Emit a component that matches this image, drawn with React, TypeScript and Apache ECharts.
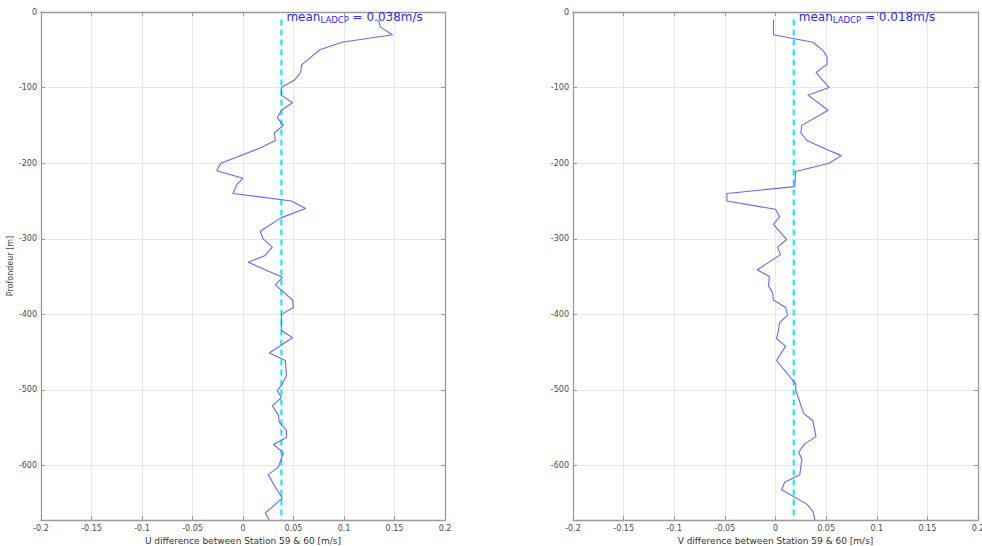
import React, { useEffect, useRef } from "react";
import * as echarts from "echarts";

// Depth (m, positive downward) and U difference (m/s)
const uDepth = [10, 20, 30, 40, 50, 60, 70, 80, 90, 100, 110, 120, 130, 140, 150, 160, 170, 180, 200, 210, 220, 228, 240, 250, 260, 272, 290, 300, 311, 322, 331, 351, 361, 381, 391, 400, 421, 431, 451, 461, 481, 492, 501, 510, 521, 533, 543, 553, 563, 572, 583, 602, 612, 633, 643, 663, 672];
const uVals = [0.134, 0.136, 0.148, 0.098, 0.076, 0.067, 0.058, 0.057, 0.051, 0.038, 0.038, 0.049, 0.038, 0.034, 0.040, 0.031, 0.032, 0.017, -0.022, -0.026, 0.000, -0.006, -0.010, 0.048, 0.062, 0.038, 0.017, 0.020, 0.029, 0.022, 0.005, 0.039, 0.032, 0.049, 0.050, 0.038, 0.038, 0.049, 0.026, 0.042, 0.043, 0.039, 0.034, 0.038, 0.029, 0.035, 0.036, 0.043, 0.043, 0.030, 0.040, 0.035, 0.025, 0.034, 0.039, 0.022, 0.026];

// Depth (m) and V difference (m/s)
const vDepth = [10, 30, 40, 51, 60, 69, 80, 100, 110, 130, 150, 160, 170, 181, 190, 200, 211, 231, 240, 250, 261, 271, 281, 301, 311, 321, 341, 350, 362, 371, 381, 391, 401, 411, 421, 432, 442, 461, 492, 500, 520, 531, 541, 562, 571, 582, 592, 612, 622, 632, 651, 661, 672];
const vVals = [-0.002, -0.002, 0.037, 0.047, 0.051, 0.051, 0.040, 0.053, 0.032, 0.052, 0.026, 0.025, 0.031, 0.049, 0.065, 0.053, 0.020, 0.019, -0.048, -0.048, 0.000, 0.004, -0.002, 0.011, 0.002, 0.005, -0.018, -0.006, -0.007, -0.003, -0.002, 0.010, 0.012, 0.004, 0.003, 0.001, 0.010, 0.001, 0.020, 0.020, 0.025, 0.028, 0.037, 0.040, 0.029, 0.023, 0.026, 0.024, 0.009, 0.006, 0.031, 0.037, 0.039];

const meanU = 0.038;
const meanV = 0.018;
const meanDepthRange = [10, 672];
const depthMax = 672;
const xTicks = [-0.2, -0.15, -0.1, -0.05, 0, 0.05, 0.1, 0.15, 0.2];
const yTickStep = 100;

const FONT = "DejaVu Sans";
const AXIS_COLOR = "#9a9a9a";
const GRID_COLOR = "#e8e8e8";
const LABEL_COLOR = "#4a4a4a";
const LINE_COLOR = "#6666ff";
const TEXT_BLUE = "#2a2aff";
const CYAN = "#00eaff";

export default function App() {
  const ref = useRef<HTMLDivElement>(null);
  useEffect(() => {
    if (!ref.current) return;
    const chart = echarts.init(ref.current, null, { renderer: "svg" });

    const xBase = (gridIndex: number, name: string) => ({
      type: "value",
      gridIndex,
      min: xTicks[0],
      max: xTicks[xTicks.length - 1],
      interval: xTicks[1] - xTicks[0],
      position: "bottom",
      name,
      nameLocation: "middle",
      nameGap: 16,
      nameTextStyle: { fontFamily: FONT, fontSize: 9, color: "#333" },
      axisLine: { show: true, onZero: false, lineStyle: { color: AXIS_COLOR, width: 1.3 } },
      axisTick: { show: true, inside: true, length: 4, lineStyle: { color: AXIS_COLOR } },
      axisLabel: { fontFamily: FONT, fontSize: 8, color: LABEL_COLOR, margin: 4, formatter: (v: number) => String(+v.toFixed(2)) },
      splitLine: { show: true, lineStyle: { color: GRID_COLOR, width: 1 } },
    });
    const xTop = (gridIndex: number) => ({
      type: "value",
      gridIndex,
      min: xTicks[0],
      max: xTicks[xTicks.length - 1],
      interval: xTicks[1] - xTicks[0],
      position: "top",
      axisLine: { show: true, onZero: false, lineStyle: { color: AXIS_COLOR, width: 1.3 } },
      axisTick: { show: true, inside: true, length: 4, lineStyle: { color: AXIS_COLOR } },
      axisLabel: { show: false },
      splitLine: { show: false },
    });
    const yLeft = (gridIndex: number, name: string) => ({
      type: "value",
      gridIndex,
      inverse: true,
      min: 0,
      max: depthMax,
      interval: yTickStep,
      position: "left",
      name,
      nameLocation: "middle",
      nameGap: 20,
      nameTextStyle: { fontFamily: FONT, fontSize: 8, color: "#444" },
      axisLine: { show: true, onZero: false, lineStyle: { color: AXIS_COLOR, width: 1.3 } },
      axisTick: { show: true, inside: true, length: 4, lineStyle: { color: AXIS_COLOR } },
      axisLabel: {
        fontFamily: FONT,
        fontSize: 8,
        color: LABEL_COLOR,
        margin: 4,
        showMaxLabel: false,
        formatter: (v: number) => (v === 0 ? "0" : "-" + v),
      },
      splitLine: { show: true, lineStyle: { color: GRID_COLOR, width: 1 } },
    });
    const yRight = (gridIndex: number) => ({
      type: "value",
      gridIndex,
      inverse: true,
      min: 0,
      max: depthMax,
      interval: yTickStep,
      position: "right",
      axisLine: { show: true, onZero: false, lineStyle: { color: AXIS_COLOR, width: 1.3 } },
      axisTick: { show: true, inside: true, length: 4, lineStyle: { color: AXIS_COLOR } },
      axisLabel: { show: false },
      splitLine: { show: false },
    });

    const meanLabel = (val: number) => ({
      show: true,
      position: "right",
      distance: 5,
      offset: [0, -2],
      formatter: `{a|mean}{b|LADCP}{a| = ${val.toFixed(3)}m/s}`,
      rich: {
        a: { fontFamily: FONT, fontSize: 12, color: TEXT_BLUE, lineHeight: 14, verticalAlign: "top" },
        b: { fontFamily: FONT, fontSize: 8.5, color: TEXT_BLUE, lineHeight: 14, verticalAlign: "bottom", padding: [7, 0, 0, 0] },
      },
    });

    const meanSeries = (val: number, xi: number, yi: number) => ({
      type: "line",
      xAxisIndex: xi,
      yAxisIndex: yi,
      symbol: "none",
      silent: true,
      lineStyle: { color: CYAN, width: 2, type: [6, 4] },
      data: [
        { value: [val, meanDepthRange[0]], label: meanLabel(val), symbol: "circle", symbolSize: 0.1 },
        [val, meanDepthRange[1]],
      ],
      z: 3,
    });

    chart.setOption({
      animation: false,
      backgroundColor: "#ffffff",
      grid: [
        { left: 41, top: 12, width: 404, height: 508, outerBoundsMode: "none", containLabel: false },
        { left: 573, top: 12, width: 405, height: 508, outerBoundsMode: "none", containLabel: false },
      ],
      xAxis: [
        xBase(0, "U difference between Station 59 & 60 [m/s]"),
        xTop(0),
        xBase(1, "V difference between Station 59 & 60 [m/s]"),
        xTop(1),
      ],
      yAxis: [yLeft(0, "Profondeur [m]"), yRight(0), yLeft(1, ""), yRight(1)],
      series: [
        {
          type: "line",
          xAxisIndex: 0,
          yAxisIndex: 0,
          symbol: "none",
          lineStyle: { color: LINE_COLOR, width: 1.1 },
          data: uDepth.map((d, i) => [uVals[i], d]),
          z: 4,
        },
        meanSeries(meanU, 0, 0),
        {
          type: "line",
          xAxisIndex: 2,
          yAxisIndex: 2,
          symbol: "none",
          lineStyle: { color: LINE_COLOR, width: 1.1 },
          data: vDepth.map((d, i) => [vVals[i], d]),
          z: 4,
        },
        meanSeries(meanV, 2, 2),
      ],
    });
    return () => chart.dispose();
  }, []);
  return (
    <div
      ref={ref}
      style={{ position: "fixed", left: 0, top: 0, width: 982, height: 546, background: "#fff" }}
    />
  );
}
